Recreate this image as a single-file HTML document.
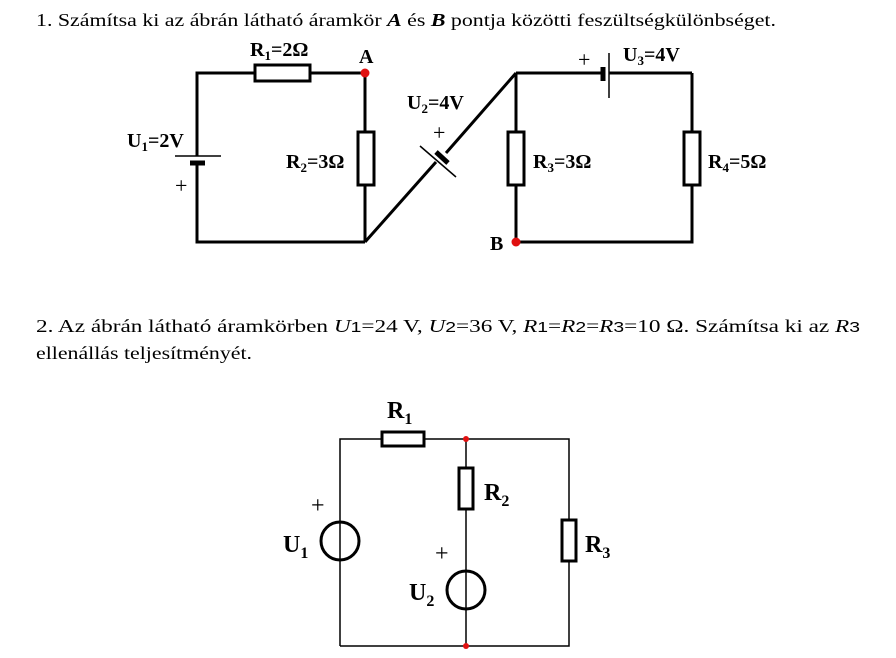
<!DOCTYPE html>
<html><head><meta charset="utf-8"><style>
html,body{margin:0;padding:0;background:#fff;}
svg{display:block;font-family:"Liberation Serif",serif;}
</style></head><body>
<svg width="896" height="658" viewBox="0 0 896 658" xmlns="http://www.w3.org/2000/svg">
<text x="36" y="26" font-size="18" textLength="740" lengthAdjust="spacingAndGlyphs">1. Számítsa ki az ábrán látható áramkör <tspan font-weight="bold" font-style="italic">A</tspan> és <tspan font-weight="bold" font-style="italic">B</tspan> pontja közötti feszültségkülönbséget.</text>

<g stroke="#000" stroke-width="3" fill="none">
<polyline points="197,156 197,73 255,73"/>
<line x1="310" y1="73" x2="365" y2="73"/>
<line x1="365" y1="73" x2="365" y2="132"/>
<line x1="365" y1="185" x2="365" y2="242"/>
<polyline points="197,163 197,242 365,242"/>
<rect x="255" y="65" width="55" height="16" fill="#fff"/>
<rect x="358" y="132" width="16" height="53" fill="#fff"/>
<line x1="175" y1="156" x2="221" y2="156" stroke-width="1.5"/>
<line x1="190" y1="163" x2="205" y2="163" stroke-width="5"/>
<line x1="365" y1="242" x2="436" y2="162"/>
<line x1="446" y1="153" x2="516" y2="73" />
<line x1="420" y1="146" x2="456" y2="177" stroke-width="1.5"/>
<line x1="436" y1="152" x2="448" y2="163" stroke-width="5"/>
<line x1="516" y1="73" x2="603" y2="73"/>
<line x1="609" y1="73" x2="692" y2="73"/>
<line x1="603" y1="67" x2="603" y2="81" stroke-width="5"/>
<line x1="609" y1="53" x2="609" y2="98" stroke-width="1.5"/>
<line x1="516" y1="73" x2="516" y2="242"/>
<polyline points="692,73 692,242 516,242"/>
<rect x="508" y="132" width="16" height="53" fill="#fff"/>
<rect x="684" y="132" width="16" height="53" fill="#fff"/>
</g>
<circle cx="365" cy="73" r="4.5" fill="#e01010"/>
<circle cx="516" cy="242" r="4.5" fill="#e01010"/>

<g font-weight="bold" font-size="20">
<text x="250" y="56">R<tspan font-size="13" dy="4">1</tspan><tspan dy="-4">=2Ω</tspan></text>
<text x="359" y="63">A</text>
<text x="127" y="147">U<tspan font-size="13" dy="4">1</tspan><tspan dy="-4">=2V</tspan></text>
<text x="286" y="168">R<tspan font-size="13" dy="4">2</tspan><tspan dy="-4">=3Ω</tspan></text>
<text x="407" y="109">U<tspan font-size="13" dy="4">2</tspan><tspan dy="-4">=4V</tspan></text>
<text x="533" y="168">R<tspan font-size="13" dy="4">3</tspan><tspan dy="-4">=3Ω</tspan></text>
<text x="708" y="168">R<tspan font-size="13" dy="4">4</tspan><tspan dy="-4">=5Ω</tspan></text>
<text x="623" y="61">U<tspan font-size="13" dy="4">3</tspan><tspan dy="-4">=4V</tspan></text>
<text x="490" y="250">B</text>
</g>
<g font-size="22">
<text x="175" y="193">+</text>
<text x="433" y="140">+</text>
<text x="578" y="67">+</text>
</g>

<text x="36" y="332" font-size="18" textLength="824" lengthAdjust="spacingAndGlyphs">2. Az ábrán látható áramkörben <tspan font-style="italic">U</tspan><tspan font-family="Liberation Sans" font-size="15">1</tspan>=24 V, <tspan font-style="italic">U</tspan><tspan font-family="Liberation Sans" font-size="15">2</tspan>=36 V, <tspan font-style="italic">R</tspan><tspan font-family="Liberation Sans" font-size="15">1</tspan>=<tspan font-style="italic">R</tspan><tspan font-family="Liberation Sans" font-size="15">2</tspan>=<tspan font-style="italic">R</tspan><tspan font-family="Liberation Sans" font-size="15">3</tspan>=10 Ω. Számítsa ki az <tspan font-style="italic">R</tspan><tspan font-family="Liberation Sans" font-size="15">3</tspan></text>
<text x="36" y="359" font-size="18" textLength="216" lengthAdjust="spacingAndGlyphs">ellenállás teljesítményét.</text>

<g stroke="#000" stroke-width="1.5" fill="none">
<polyline points="340,646 340,439 569,439 569,646 340,646"/>
<line x1="466" y1="439" x2="466" y2="646"/>
<rect x="382" y="432" width="42" height="14" fill="#fff" stroke-width="3"/>
<rect x="459" y="468" width="14" height="41" fill="#fff" stroke-width="3"/>
<rect x="562" y="520" width="14" height="41" fill="#fff" stroke-width="3"/>
<circle cx="340" cy="541" r="19" stroke-width="3" fill="#fff"/>
<line x1="340" y1="522" x2="340" y2="560"/>
<circle cx="466" cy="590" r="19" stroke-width="3" fill="#fff"/>
<line x1="466" y1="571" x2="466" y2="609"/>
</g>
<circle cx="466" cy="439" r="3" fill="#e01010"/>
<circle cx="466" cy="646" r="3" fill="#e01010"/>
<g font-weight="bold" font-size="24">
<text x="387" y="418">R<tspan font-size="16" dy="6">1</tspan></text>
<text x="484" y="500">R<tspan font-size="16" dy="6">2</tspan></text>
<text x="585" y="552">R<tspan font-size="16" dy="6">3</tspan></text>
<text x="283" y="552">U<tspan font-size="16" dy="6">1</tspan></text>
<text x="409" y="600">U<tspan font-size="16" dy="6">2</tspan></text>
</g>
<g font-size="24">
<text x="311" y="513">+</text>
<text x="435" y="561">+</text>
</g>
</svg>
</body></html>
